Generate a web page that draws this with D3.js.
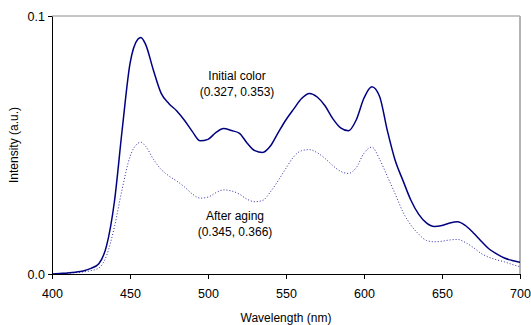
<!DOCTYPE html>
<html>
<head>
<meta charset="utf-8">
<script src="https://cdn.jsdelivr.net/npm/d3@7"></script>
<style>
  body { margin: 0; background: #fff; }
  svg text { font-family: "Liberation Sans", Arial, sans-serif; fill: #000; }
</style>
</head>
<body>
<div id="chart"></div>
<script>
// wavelength grid (nm)
const wavelengths = [400, 405, 410, 415, 420, 425, 430, 435, 440, 445, 450, 455, 457, 460, 465, 470,
  475, 480, 485, 490, 495, 500, 505, 510, 515, 520, 525, 530, 535, 540, 545, 550, 555, 560,
  565, 570, 575, 580, 585, 590, 595, 600, 605, 610, 615, 620, 625, 630, 635, 640, 645, 650,
  655, 660, 665, 670, 675, 680, 685, 690, 695, 700];

// initial color spectrum
const initialValues = [0.0000, 0.0002, 0.0004, 0.0007, 0.0012, 0.0022, 0.0040, 0.0110, 0.0280, 0.0560,
  0.0815, 0.0910, 0.0917, 0.0890, 0.0790, 0.0700, 0.0660, 0.0632, 0.0595, 0.0552, 0.0516, 0.0522,
  0.0548, 0.0564, 0.0556, 0.0546, 0.0508, 0.0478, 0.0471, 0.0496, 0.0548, 0.0598, 0.0640, 0.0680,
  0.0700, 0.0686, 0.0652, 0.0602, 0.0566, 0.0555, 0.0597, 0.0682, 0.0726, 0.0688, 0.0555, 0.0440,
  0.0362, 0.0287, 0.0232, 0.0198, 0.0184, 0.0188, 0.0198, 0.0203, 0.0188, 0.0160, 0.0128, 0.0098,
  0.0078, 0.0062, 0.0052, 0.0045];

// after aging spectrum
const agedValues = [0.0000, 0.0001, 0.0003, 0.0005, 0.0008, 0.0013, 0.0023, 0.0072, 0.0182, 0.0330,
  0.0455, 0.0506, 0.0511, 0.0495, 0.0445, 0.0405, 0.0380, 0.0360, 0.0337, 0.0310, 0.0294, 0.0298,
  0.0315, 0.0326, 0.0322, 0.0310, 0.0290, 0.0280, 0.0285, 0.0318, 0.0362, 0.0410, 0.0455, 0.0478,
  0.0482, 0.0470, 0.0448, 0.0420, 0.0398, 0.0390, 0.0412, 0.0468, 0.0492, 0.0445, 0.0378, 0.0310,
  0.0240, 0.0190, 0.0155, 0.0130, 0.0125, 0.0127, 0.0132, 0.0134, 0.0122, 0.0103, 0.0080, 0.0065,
  0.0055, 0.0047, 0.0037, 0.0028];

const xTicks = [400, 450, 500, 550, 600, 650, 700];
const yTicks = [0, 0.1];

const margin = { top: 16, right: 11, bottom: 51, left: 52 };
const width = 531 - margin.left - margin.right;
const height = 325 - margin.top - margin.bottom;

const svg = d3.select('#chart')
  .append('svg')
  .attr('width', 531)
  .attr('height', 325);

const g = svg.append('g')
  .attr('transform', 'translate(' + margin.left + ',' + margin.top + ')');

const x = d3.scaleLinear().domain([400, 700]).range([0, width]);
const y = d3.scaleLinear().domain([0, 0.1]).range([height, 0]);

// top and right frame lines
g.append('line')
  .attr('x1', 0).attr('x2', width).attr('y1', 0).attr('y2', 0)
  .attr('stroke', '#8c8c8c').attr('stroke-width', 1);
g.append('line')
  .attr('x1', width).attr('x2', width).attr('y1', 0).attr('y2', height)
  .attr('stroke', '#b4b4b4').attr('stroke-width', 2);

g.append('defs').append('clipPath').attr('id', 'clip')
  .append('rect').attr('width', width).attr('height', height);

const line = vals => d3.line()
  .x((d, i) => x(wavelengths[i]))
  .y(d => y(d))
  .curve(d3.curveMonotoneX)(vals);

g.append('path')
  .attr('clip-path', 'url(#clip)')
  .attr('d', line(agedValues))
  .attr('fill', 'none')
  .attr('stroke', '#2a2aa8')
  .attr('stroke-width', 1)
  .attr('stroke-dasharray', '1,2');

g.append('path')
  .attr('clip-path', 'url(#clip)')
  .attr('d', line(initialValues))
  .attr('fill', 'none')
  .attr('stroke', '#000080')
  .attr('stroke-width', 1.5);

const xAxis = g.append('g')
  .attr('transform', 'translate(0,' + height + ')')
  .call(d3.axisBottom(x).tickValues(xTicks).tickSize(5).tickSizeOuter(0).tickFormat(d3.format('d')));
xAxis.selectAll('text').attr('dy', '1.25em').style('font-size', '12.5px');

const yAxis = g.append('g')
  .call(d3.axisLeft(y).tickValues(yTicks).tickSize(4).tickSizeOuter(0).tickFormat(d3.format('.1f')));
yAxis.selectAll('text').attr('x', -7).style('font-size', '12.5px');

svg.selectAll('.domain, .tick line').attr('stroke', '#000');

svg.append('text')
  .attr('transform', 'translate(18,145) rotate(-90)')
  .attr('text-anchor', 'middle')
  .style('font-size', '12px')
  .text('Intensity (a.u.)');

svg.append('text')
  .attr('x', 286).attr('y', 322)
  .attr('text-anchor', 'middle')
  .style('font-size', '12px')
  .text('Wavelength (nm)');

const notes = [
  { lines: ['Initial color', '(0.327, 0.353)'], x: 237, y: 80 },
  { lines: ['After aging', '(0.345, 0.366)'], x: 235, y: 220 }
];
notes.forEach(n => {
  n.lines.forEach((t, i) => {
    svg.append('text')
      .attr('x', n.x).attr('y', n.y + i * 16)
      .attr('text-anchor', 'middle')
      .style('font-size', '12px')
      .text(t);
  });
});
</script>
</body>
</html>
